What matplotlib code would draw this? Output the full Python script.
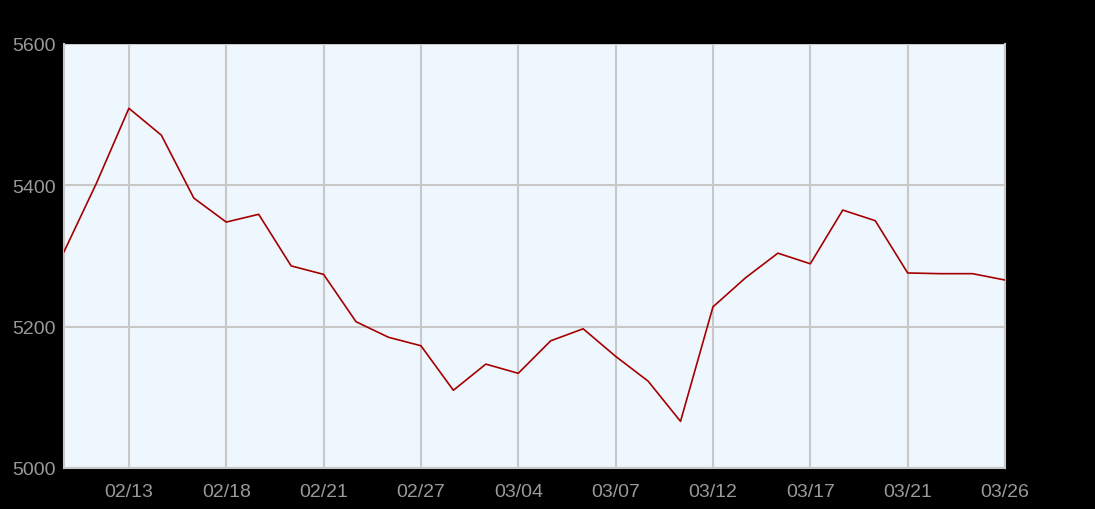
import matplotlib
matplotlib.use('Agg')
import matplotlib.pyplot as plt

# valores (un punto por dia habil)
valores = [5306, 5403, 5509, 5471, 5382, 5348, 5359, 5286, 5274, 5207,
           5185, 5173, 5110, 5147, 5134, 5180, 5197, 5158, 5123, 5066,
           5228, 5269, 5304, 5289, 5365, 5350, 5276, 5275, 5275, 5266]
etiquetas_x = ['02/13', '02/18', '02/21', '02/27', '03/04', '03/07',
               '03/12', '03/17', '03/21', '03/26']
pos_etiquetas = [2, 5, 8, 11, 14, 17, 20, 23, 26, 29]
ticks_y = [5000, 5200, 5400, 5600]

plt.rcParams['font.family'] = ['Liberation Sans', 'DejaVu Sans']

fig = plt.figure(figsize=(10.95, 5.10), dpi=100, facecolor='black')
ax = fig.add_axes([64 / 1095, 41 / 510, 941 / 1095, 424 / 510])
ax.set_facecolor('#eff7fe')

x = list(range(len(valores)))
ax.plot(x, valores, color='#a50000', linewidth=1.2, zorder=3)

ax.set_xlim(0, len(valores) - 1)
ax.set_ylim(5000, 5600)
ax.set_xticks(pos_etiquetas)
ax.set_xticklabels(etiquetas_x)
ax.set_yticks(ticks_y)
ax.set_yticklabels([str(v) for v in ticks_y])

ax.grid(True, color='#c8c8c8', linewidth=1.5, zorder=1)
ax.tick_params(axis='both', length=0, labelsize=14, labelcolor='#999999')
ax.tick_params(axis='x', pad=11)
ax.tick_params(axis='y', pad=6)

for lado in ['left', 'bottom', 'right', 'top']:
    ax.spines[lado].set_color('#c8c8c8')
    ax.spines[lado].set_linewidth(1.5)
ax.spines['top'].set_visible(False)

fig.savefig('out.png', dpi=100, facecolor='black')
